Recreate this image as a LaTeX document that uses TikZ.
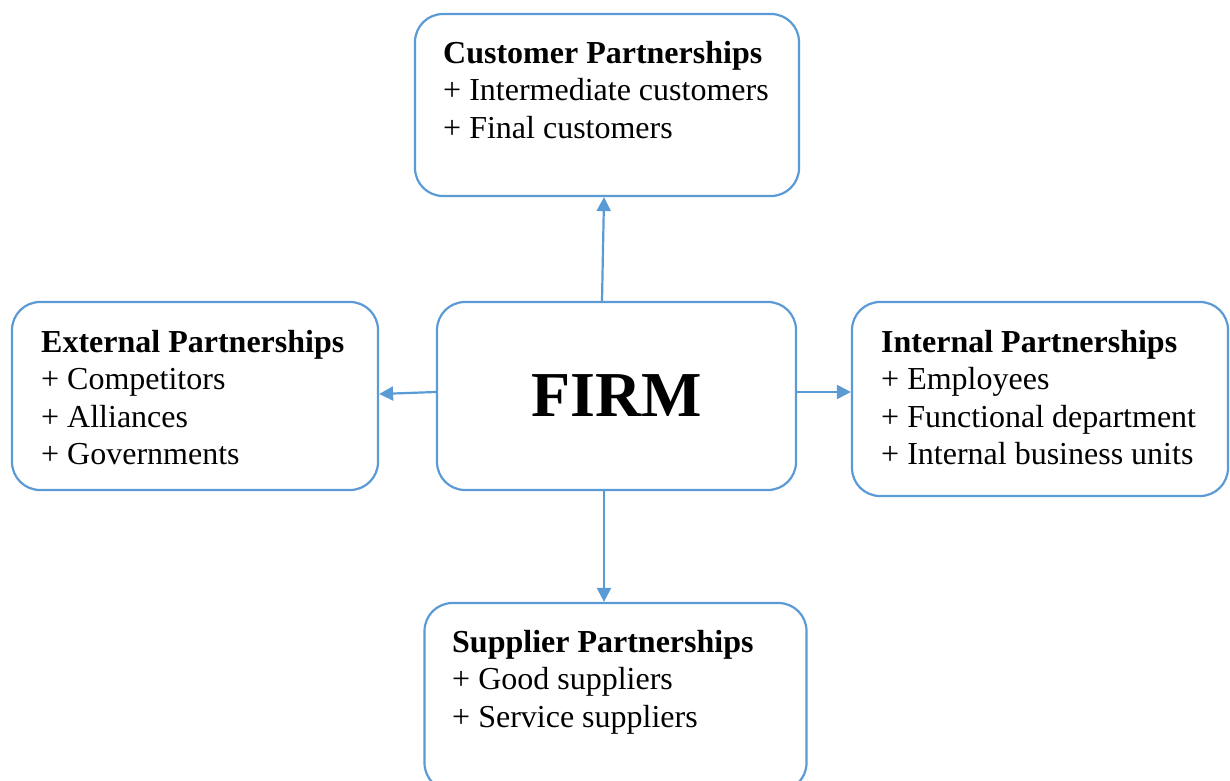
\documentclass[tikz,border=0pt]{standalone}
\usepackage{fontspec}
\setmainfont{Liberation Serif}
\usetikzlibrary{arrows.meta}
\definecolor{boxblue}{RGB}{91,155,213}
\tikzset{
  pbox/.style={draw=boxblue, line width=2.2pt, rounded corners=28pt, fill=white, inner sep=0pt},
  ptext/.style={anchor=north west, inner sep=0pt, align=left,
    font=\fontsize{32}{37.2}\selectfont},
  firmtext/.style={inner sep=0pt, font=\fontsize{64}{70}\selectfont\bfseries},
  conn/.style={draw=boxblue, line width=2.2pt, -{Triangle[length=14pt,width=14pt]}}
}
\begin{document}
\begin{tikzpicture}[x=1pt,y=1pt]
\useasboundingbox (0,0) rectangle (1230,780);
\clip (0,0) rectangle (1230,780);
% boxes
\node[pbox, minimum width=384pt, minimum height=182pt] (cust) at (607,675) {};
\node[pbox, minimum width=359pt, minimum height=188pt] (firm) at (616.5,384) {};
\node[pbox, minimum width=366pt, minimum height=188pt] (ext) at (195,384) {};
\node[pbox, minimum width=376pt, minimum height=194pt] (int) at (1040,381) {};
\node[pbox, minimum width=382pt, minimum height=188pt] (sup) at (615.5,83) {};
% texts
\node[firmtext] (firmlabel) at (firm.center) {FIRM};
\node[ptext] (custtext) at (443,738.7) {\textbf{Customer Partnerships}\\+ Intermediate customers\\+ Final customers};
\node[ptext] (exttext) at (41,449.7) {\textbf{External Partnerships}\\+ Competitors\\+ Alliances\\+ Governments};
\node[ptext] (inttext) at (881,449.7) {\textbf{Internal Partnerships}\\+ Employees\\+ Functional department\\+ Internal business units};
\node[ptext] (suptext) at (452,149.7) {\textbf{Supplier Partnerships}\\+ Good suppliers\\+ Service suppliers};
% connectors
\draw[conn] ([xshift=-14.5pt]firm.north) -- ([xshift=-3pt]cust.south);
\draw[conn] ([yshift=4pt]firm.west) -- ([yshift=2pt]ext.east);
\draw[conn] ([yshift=4pt]firm.east) -- ([yshift=7pt]int.west);
\draw[conn] ([xshift=-12.5pt]firm.south) -- ([xshift=-11.5pt]sup.north);
\end{tikzpicture}
\end{document}
